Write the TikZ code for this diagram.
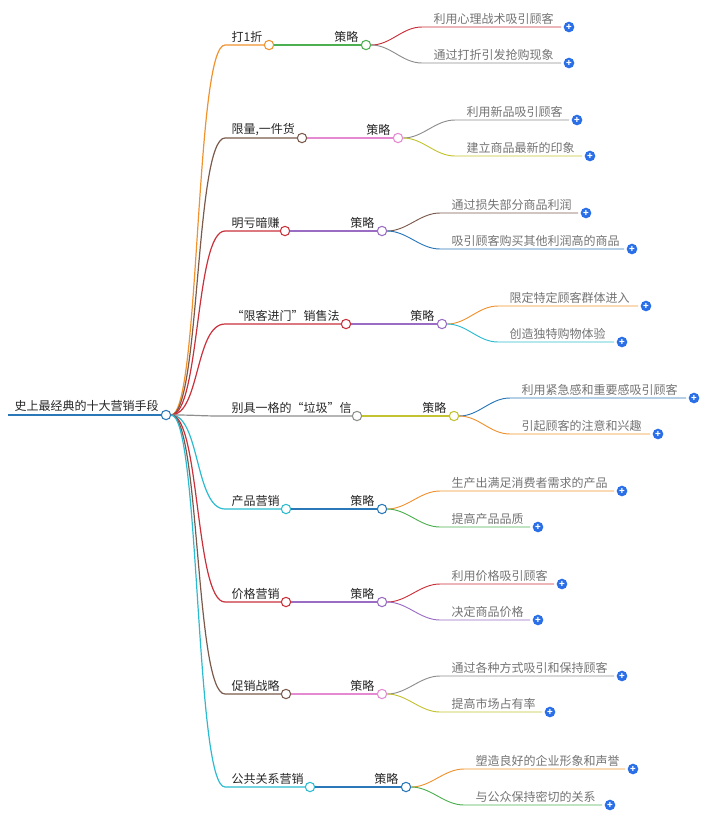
\documentclass[tikz,border=0pt]{standalone}
\usepackage{fontspec}
\setmainfont{Noto Sans CJK SC}
\definecolor{cOrange}{HTML}{F0922E}
\definecolor{cGreen}{HTML}{4CAF50}
\definecolor{cRed}{HTML}{C9303A}
\definecolor{cGray}{HTML}{8E8E8E}
\definecolor{cBrown}{HTML}{7B5A4C}
\definecolor{cPink}{HTML}{E58AD0}
\definecolor{cOlive}{HTML}{C3C32F}
\definecolor{cPurple}{HTML}{9A6CC4}
\definecolor{cBlue}{HTML}{2A78B8}
\definecolor{cCyan}{HTML}{2BBBD0}
\definecolor{cPlus}{HTML}{2A6FE8}
\tikzset{
  dot/.style={circle, draw=#1, fill=white, line width=0.8pt, minimum size=7pt, inner sep=0pt},
  plusdot/.style={circle, fill=cPlus, text=white, font=\bfseries\fontsize{7}{7}\selectfont, minimum size=8pt, inner sep=0pt},
  toptext/.style={font=\fontsize{9}{10}\selectfont, text=black!85, inner sep=1pt},
  leaftext/.style={font=\fontsize{9}{10}\selectfont, text=black!55, inner sep=1pt},
}
\begin{document}
\begin{tikzpicture}[x=0.75pt, y=-0.75pt]
  \useasboundingbox (0,0) rectangle (714,819);
  % root
  \node[toptext, anchor=south west] (root-txt) at (13,413) {史上最经典的十大营销手段};
  \node[dot=cBlue] (root) at (166,415) {};
  \draw[cBlue, line width=1.2pt] (8,415) -- (root.west);
  % branches
  \foreach \y/\cx/\sx/\tx/\lab/\ca/\cb/\cc/\cd/\pa/\pb/\la/\lb [count=\i] in {
     45/269/366/432/{打1折}/cOrange/cGreen/cRed/cGray/569/569/{利用心理战术吸引顾客}/{通过打折引发抢购现象},
    138/302/398/465/{限量,一件货}/cBrown/cPink/cGray/cOlive/577/590/{利用新品吸引顾客}/{建立商品最新的印象},
    231/285/382/450/{明亏暗赚}/cRed/cPurple/cBrown/cBlue/586/632/{通过损失部分商品利润}/{吸引顾客购买其他利润高的商品},
    324/346/442/508/{“限客进门”销售法}/cRed/cPurple/cOrange/cCyan/646/622/{限定特定顾客群体进入}/{创造独特购物体验},
    416/357/454/520/{别具一格的“垃圾”信}/cGray/cOlive/cBlue/cOrange/694/658/{利用紧急感和重要感吸引顾客}/{引起顾客的注意和兴趣},
    509/286/382/450/{产品营销}/cCyan/cBlue/cOrange/cGreen/622/538/{生产出满足消费者需求的产品}/{提高产品品质},
    602/286/382/450/{价格营销}/cRed/cPurple/cRed/cPurple/562/538/{利用价格吸引顾客}/{决定商品价格},
    694/286/382/450/{促销战略}/cBrown/cPink/cGray/cOlive/622/550/{通过各种方式吸引和保持顾客}/{提高市场占有率},
    787/310/406/474/{公共关系营销}/cCyan/cBlue/cOrange/cGreen/633/610/{塑造良好的企业形象和声誉}/{与公众保持密切的关系}} {
    \node[dot=\ca] (b\i) at (\cx,\y) {};
    \node[toptext, anchor=south west] (b\i-txt) at (230,\y-1) {\lab};
    \node[dot=\cb] (s\i) at (\sx,\y) {};
    \node[toptext, anchor=south east] (s\i-txt) at (\sx-6,\y-1) {策略};
    \node[leaftext, anchor=south west] (la\i) at (\tx,\y-19) {\la};
    \node[leaftext, anchor=south west] (lb\i) at (\tx,\y+17) {\lb};
    \node[plusdot] (pa\i) at (\pa,\y-18) {+};
    \node[plusdot] (pb\i) at (\pb,\y+18) {+};
    \draw[\ca, line width=0.9pt] (root.east) .. controls (200,415) and (195,\y) .. (225,\y) -- (b\i.west);
    \draw[\cb, line width=0.8pt] (b\i.east) -- (s\i.west);
    \draw[\cc, line width=0.7pt] (s\i.east) .. controls (\sx+25,\y) and (\tx-30,\y-18) .. (\tx-10,\y-18) -- (pa\i.west-|{\pa-8,0});
    \draw[\cd, line width=0.7pt] (s\i.east) .. controls (\sx+25,\y) and (\tx-30,\y+18) .. (\tx-10,\y+18) -- (pb\i.west-|{\pb-8,0});
  }
\end{tikzpicture}
\end{document}
